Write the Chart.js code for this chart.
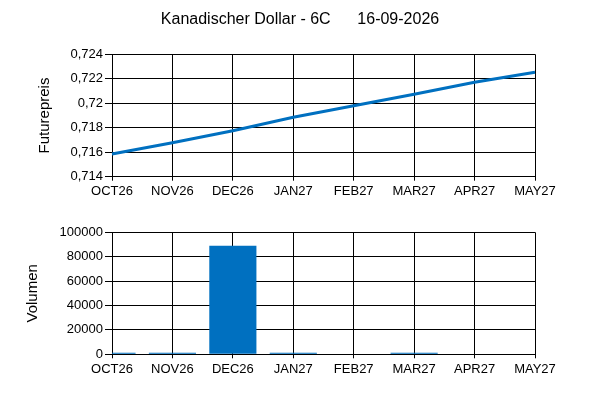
<!DOCTYPE html>
<html>
<head>
<meta charset="utf-8">
<script src="https://cdn.jsdelivr.net/npm/chart.js@4/dist/chart.umd.min.js"></script>
<style>
html,body{margin:0;padding:0;background:#fff;}
#wrap{position:relative;width:600px;height:400px;}
canvas{position:absolute;left:0;}
#c1{top:0;}
#c2{top:200px;}
</style>
</head>
<body>
<div id="wrap">
<canvas id="c1" width="600" height="200"></canvas>
<canvas id="c2" width="600" height="200"></canvas>
</div>
<script>
const titleText = "Kanadischer Dollar - 6C      16-09-2026";
const categories = ["OCT26","NOV26","DEC26","JAN27","FEB27","MAR27","APR27","MAY27"];
const prices = [0.71586, 0.71678, 0.71776, 0.71885, 0.71980, 0.72073, 0.72171, 0.72253];
const volumes = [1300, 1300, 89000, 1300, 0, 1300, 0, 0];
const priceTicks = {min: 0.714, max: 0.724, step: 0.002};
const volumeTicks = {min: 0, max: 100000, step: 20000};

const FONT = '"Liberation Sans", Arial, sans-serif';
const BLUE = '#0070C0';
Chart.defaults.font.family = FONT;
Chart.defaults.color = '#000';
Chart.defaults.devicePixelRatio = 1;

const titlePlugin = {
  id: 'topTitle',
  afterDraw(chart) {
    const ctx = chart.ctx;
    ctx.save();
    ctx.font = '16px ' + FONT;
    ctx.fillStyle = '#000';
    ctx.textAlign = 'center';
    ctx.textBaseline = 'middle';
    ctx.fillText(titleText, 300, 20);
    ctx.restore();
  }
};

function xScale(height) {
  return {
    type: 'category',
    offset: false,
    grid: {color: '#000', lineWidth: 1, tickLength: 4, tickColor: '#000', offset: false},
    border: {color: '#000', width: 1},
    ticks: {font: {size: 13}, color: '#000', padding: 3, maxRotation: 0, autoSkip: false},
    afterFit(s) { s.height = height; }
  };
}

function yScale(t, titleStr, titlePad, fmt) {
  return {
    min: t.min, max: t.max,
    grid: {color: '#000', lineWidth: 1, tickLength: 7, tickColor: '#000'},
    border: {color: '#000', width: 1},
    ticks: {stepSize: t.step, font: {size: 13}, color: '#000', padding: 2, callback: fmt},
    title: {display: true, text: titleStr, font: {size: 15}, color: '#000', padding: {top: titlePad, bottom: 0}},
    afterFit(s) { s.width = 112; }
  };
}

new Chart(document.getElementById('c1'), {
  type: 'line',
  data: {
    labels: categories,
    datasets: [{
      data: prices,
      borderColor: BLUE,
      backgroundColor: BLUE,
      borderWidth: 3,
      pointRadius: 0,
      tension: 0,
      fill: false
    }]
  },
  options: {
    responsive: false,
    animation: false,
    layout: {padding: {left: 0, right: 65, top: 54.3, bottom: 0}},
    plugins: {legend: {display: false}, tooltip: {enabled: false}},
    scales: {
      x: xScale(23.3),
      y: yScale(priceTicks, 'Futurepreis', 36, v => String(Number(v.toFixed(3))).replace('.', ','))
    }
  },
  plugins: [titlePlugin]
});

new Chart(document.getElementById('c2'), {
  type: 'bar',
  data: {
    labels: categories,
    datasets: [{
      data: volumes,
      backgroundColor: BLUE,
      borderWidth: 0,
      barPercentage: 0.78,
      categoryPercentage: 1
    }]
  },
  options: {
    responsive: false,
    animation: false,
    layout: {padding: {left: 0, right: 65, top: 32.3, bottom: 0}},
    plugins: {legend: {display: false}, tooltip: {enabled: false}},
    scales: {
      x: xScale(45.7),
      y: yScale(volumeTicks, 'Volumen', 24, v => String(Math.round(v)))
    }
  }
});
</script>
</body>
</html>
